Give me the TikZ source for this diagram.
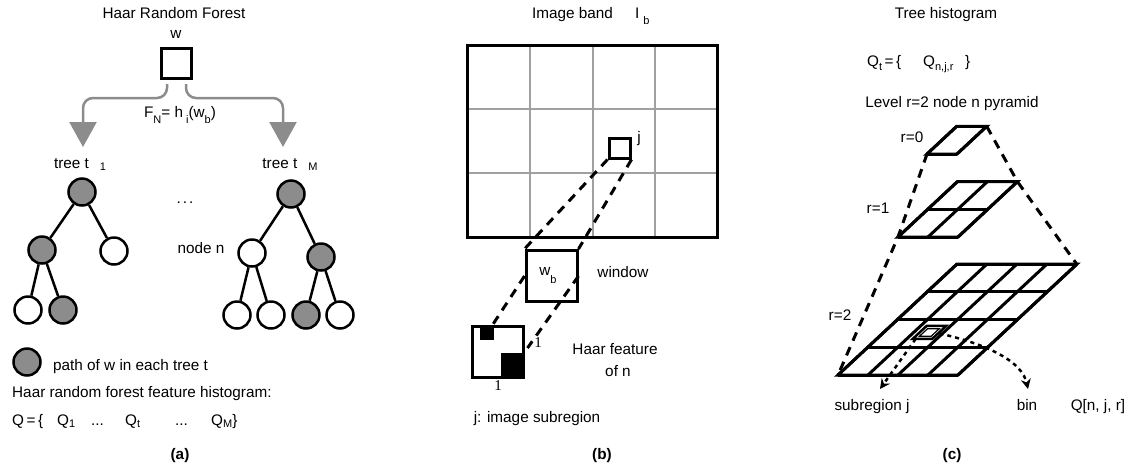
\documentclass[tikz,border=0pt]{standalone}
\usepackage{fontspec}
\setmainfont{Liberation Sans}
\newfontfamily\serifnum{Liberation Serif}
\usetikzlibrary{arrows.meta,positioning}

\definecolor{pathgray}{RGB}{140,140,140}
\definecolor{gridgray}{RGB}{160,160,160}
\newcommand{\lowsub}[2][4pt]{\raisebox{-#1}{\fontsize{11}{11}\selectfont #2}}
\newcommand{\labelfont}{\fontsize{15.3}{18}\selectfont}

\tikzset{
    txt/.style={anchor=base, inner sep=0pt},
    twest/.style={anchor=base west, inner sep=0pt},
    caption/.style={txt, font=\labelfont\bfseries},
    treenode/.style={circle, draw, line width=2.5pt, minimum size=27pt, inner sep=0pt, fill=white},
    onpath/.style={treenode, fill=pathgray},
    edge/.style={line width=2.5pt},
    fork/.style={draw=pathgray, line width=2.5pt, rounded corners=10pt, -{Triangle[width=27pt,length=25pt]}},
    box/.style={draw, line width=3pt, inner sep=0pt},
    proj/.style={line width=3pt, dash pattern=on 9pt off 7pt},
    pointer/.style={line width=2.5pt, dash pattern=on 4pt off 4pt, -{Stealth[length=10pt,width=10pt]}}
}

\begin{document}
\begin{tikzpicture}[x=1pt, y=-1pt, font=\labelfont]
    \useasboundingbox (0,0) rectangle (1129,472);

    % (a) Haar random forest
    \node[txt] (titlea) at (174,18) {Haar Random Forest};
    \node[box, minimum size=30pt] (w) at (176,63.5) {};
    \node[txt] (wlbl) at (176,38) {w};
    \node[txt] (fn) at (180,117) {F\lowsub[6pt]{N}= h\hspace{3pt}\lowsub[6pt]{i}(w\lowsub[6pt]{b})};
    \node[txt] (t1) at (80,168) {tree t\hspace{11pt}\lowsub[2pt]{1}};
    \node[txt] (tM) at (290,168) {tree t\hspace{11pt}\lowsub[2pt]{M}};
    \draw[fork] ([xshift=-9pt,yshift=-4pt]w.south) -- ++(0,14) -| ([xshift=3pt,yshift=21pt]t1.base);
    \draw[fork] ([xshift=10pt,yshift=-4pt]w.south) -- ++(0,14) -| ([xshift=-7pt,yshift=21pt]tM.base);
    \node[txt] (dots) at (185,203) {.\hspace{2pt}.\hspace{2pt}.};
    \node[txt] (noden) at (201,253) {node n};

    % tree t_1
    \node[onpath] (a1) at (82,192) {};
    \node[onpath] (a2) at (42,250) {};
    \node[treenode] (a3) at (114,251) {};
    \node[treenode] (a4) at (28,310) {};
    \node[onpath] (a5) at (63,310) {};
    \draw[edge] (a1) -- (a2) (a1) -- (a3) (a2) -- (a4) (a2) -- (a5);

    % tree t_M
    \node[onpath] (b1) at (291,194) {};
    \node[treenode] (b2) at (252,253) {};
    \node[onpath] (b3) at (321,257) {};
    \node[treenode] (b4) at (237,315) {};
    \node[treenode] (b5) at (271,315) {};
    \node[onpath] (b6) at (306,315) {};
    \node[treenode] (b7) at (340,315) {};
    \draw[edge] (b1) -- (b2) (b1) -- (b3) (b2) -- (b4) (b2) -- (b5) (b3) -- (b6) (b3) -- (b7);

    % legend and histogram
    \node[onpath] (key) at (27,362) {};
    \node[twest] (keylbl) at (53,370) {path of w in each tree t};
    \node[twest] (histlbl) at (12,397) {Haar random forest feature histogram:};
    \node[twest] (qeq) at (12,425) {Q\,=\,\{};
    \node[twest] (q1) at (57,425) {Q\lowsub[2pt]{1}};
    \node[twest] (qd1) at (91,425) {...};
    \node[twest] (qt) at (125,425) {Q\lowsub[2pt]{t}};
    \node[twest] (qd2) at (175,425) {...};
    \node[twest] (qM) at (211,425) {Q\lowsub[2pt]{M}\}};
    \node[caption] (capa) at (180,459) {(a)};

    % (b) image band
    \node[twest] (band) at (532,18) {Image band};
    \node[twest] (bandI) at (635,18) {I\hspace{4pt}\lowsub[6pt]{b}};
    \foreach \x in {530,593,655} \draw[gridgray, line width=2.5pt] (\x,45) -- (\x,237);
    \foreach \y in {109,173} \draw[gridgray, line width=2.5pt] (467,\y) -- (717,\y);
    \draw[line width=3pt] (467,45) rectangle (717,237);

    \node[box, minimum width=21pt, minimum height=20pt] (j) at (619.5,148) {};
    \node[txt] (jlbl) at (639,142) {j};
    \node[box, minimum size=51pt] (win) at (551.5,276) {};
    \node[txt] (wb) at (548,275) {w\lowsub[8pt]{b}};
    \node[txt] (winlbl) at (623,277) {window};
    \node[box, minimum size=51pt] (haar) at (497.5,352) {};
    \fill ([xshift=9pt]haar.north west) rectangle ++(14,15);
    \fill ([xshift=-24pt,yshift=26pt]haar.south east) rectangle (haar.south east);
    \node[txt, font=\serifnum\fontsize{15}{15}\selectfont] (one1) at (538,347) {1};
    \node[txt, font=\serifnum\fontsize{15}{15}\selectfont] (one2) at (498,390) {1};
    \draw[proj] (j.south west) -- (win.north west);
    \draw[proj] (j.south east) -- (win.north east);
    \draw[proj] (win.west) -- ([xshift=22pt]haar.north west);
    \draw[proj] (win.east) -- ([xshift=3pt,yshift=4pt]haar.east);
    \node[txt] (haarlbl) at (615,354) {Haar feature};
    \node[txt] (ofn) at (618,376) {of n};
    \node[txt] (sublbl) at (537,422) {j: image subregion};
    \node[caption] (capb) at (602,459) {(b)};

    % (c) tree histogram pyramid
    \node[txt] (titlec) at (946,18) {Tree histogram};
    \node[twest] (qtl) at (867,66) {Q\lowsub{t}\,=\,\{};
    \node[twest] (qnjr) at (923,66) {Q\lowsub{n,j,r}};
    \node[twest] (qclose) at (965,66) {\}};
    \node[txt] (levellbl) at (952,107) {Level r=2 node n pyramid};

    \foreach \bx/\by/\n in {927/154/1, 898/237/2, 838/375/4} {
        \begin{scope}[shift={(\bx,\by)}, x={(30pt,0pt)}, y={(29.7pt,27.7pt)}]
            \draw[line width=3pt] (0,0) -- (\n,0) -- (\n,\n) -- (0,\n) -- cycle;
            \foreach \i in {0,...,\n} {
                \draw[line width=3pt] (\i,0) -- (\i,\n);
                \draw[line width=3pt] (0,\i) -- (\n,\i);
            }
            \coordinate (sw\n) at (0,0);
            \coordinate (ne\n) at (\n,\n);
        \end{scope}
    }
    \begin{scope}[shift={(sw4)}, x={(30pt,0pt)}, y={(29.7pt,27.7pt)}]
        \draw[line width=2.5pt] (1.2,1.3) -- (1.85,1.3) -- (1.85,1.77) -- (1.2,1.77) -- cycle;
        \draw[line width=1.2pt] (1.33,1.4) -- (1.72,1.4) -- (1.72,1.67) -- (1.33,1.67) -- cycle;
        \coordinate (cellsw) at (1.3,1.3);
        \coordinate (celle) at (1.9,1.5);
    \end{scope}
    \draw[proj] (sw1) -- (sw2) -- (sw4);
    \draw[proj] (ne1) -- (ne2) -- (ne4);

    \node[txt] (r0) at (912,142) {r=0};
    \node[txt] (r1) at (878,213) {r=1};
    \node[txt] (r2) at (840,320) {r=2};
    \node[txt] (subj) at (872,410) {subregion j};
    \node[txt] (bin) at (1027,410) {bin};
    \node[txt] (qidx) at (1098,410) {Q[n, j, r]};
    \draw[pointer] (cellsw) -- ([xshift=8pt,yshift=21pt]subj.base);
    \draw[pointer] (celle) .. controls (990,345) and (1022,362) .. ([xshift=1pt,yshift=21pt]bin.base);
    \node[caption] (capc) at (952,459) {(c)};
\end{tikzpicture}
\end{document}
